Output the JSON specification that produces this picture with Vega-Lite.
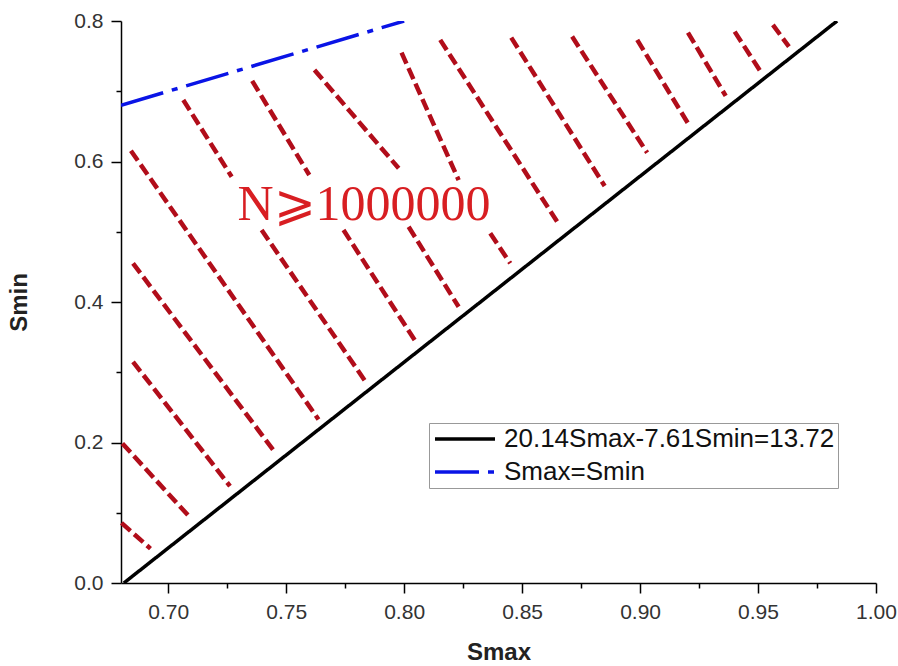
{
  "$schema": "https://vega.github.io/schema/vega-lite/v6.json",
  "width": 755,
  "height": 562,
  "autosize": {"type": "none"},
  "padding": {"left": 121, "top": 21, "right": 22, "bottom": 83},
  "background": "white",
  "config": {
    "view": {"stroke": null},
    "font": "Liberation Sans",
    "axis": {
      "domainColor": "black",
      "domainWidth": 1.5,
      "tickColor": "black",
      "tickWidth": 1.5,
      "labelFont": "Liberation Sans",
      "labelFontSize": 21,
      "labelColor": "#333333",
      "titleFont": "Liberation Sans",
      "titleFontSize": 24,
      "titleFontWeight": "bold",
      "titleColor": "#222222",
      "grid": false
    }
  },
  "resolve": {"axis": {"x": "independent", "y": "independent"}},
  "datasets": {
    "hatch": [
      {"seg": "S1", "x": 0.6842, "y": 0.6154}, {"seg": "S1", "x": 0.7637, "y": 0.2328},
      {"seg": "S2a", "x": 0.7064, "y": 0.6876}, {"seg": "S2a", "x": 0.7269, "y": 0.5783},
      {"seg": "S2b", "x": 0.7396, "y": 0.5024}, {"seg": "S2b", "x": 0.7842, "y": 0.2840},
      {"seg": "S3a", "x": 0.7356, "y": 0.7147}, {"seg": "S3a", "x": 0.7598, "y": 0.5808},
      {"seg": "S3b", "x": 0.7743, "y": 0.5024}, {"seg": "S3b", "x": 0.8054, "y": 0.3410},
      {"seg": "S4a", "x": 0.7620, "y": 0.7303}, {"seg": "S4a", "x": 0.7977, "y": 0.5903},
      {"seg": "S4b", "x": 0.8019, "y": 0.5071}, {"seg": "S4b", "x": 0.8231, "y": 0.3932},
      {"seg": "S5a", "x": 0.7989, "y": 0.7550}, {"seg": "S5a", "x": 0.8231, "y": 0.5736},
      {"seg": "S5b", "x": 0.8365, "y": 0.4977}, {"seg": "S5b", "x": 0.8450, "y": 0.4550},
      {"seg": "S6", "x": 0.8153, "y": 0.7731}, {"seg": "S6", "x": 0.8655, "y": 0.5110},
      {"seg": "S7", "x": 0.8454, "y": 0.7764}, {"seg": "S7", "x": 0.8850, "y": 0.5651},
      {"seg": "S8", "x": 0.8712, "y": 0.7778}, {"seg": "S8", "x": 0.9030, "y": 0.6125},
      {"seg": "S9", "x": 0.8988, "y": 0.7731}, {"seg": "S9", "x": 0.9203, "y": 0.6544},
      {"seg": "S10", "x": 0.9203, "y": 0.7835}, {"seg": "S10", "x": 0.9363, "y": 0.6933},
      {"seg": "S11", "x": 0.9401, "y": 0.7849}, {"seg": "S11", "x": 0.9514, "y": 0.7265},
      {"seg": "S12", "x": 0.9563, "y": 0.7945}, {"seg": "S12", "x": 0.9631, "y": 0.7635},
      {"seg": "S13", "x": 0.6851, "y": 0.4550}, {"seg": "S13", "x": 0.7446, "y": 0.1890},
      {"seg": "S14", "x": 0.6851, "y": 0.3148}, {"seg": "S14", "x": 0.7262, "y": 0.1378},
      {"seg": "S15", "x": 0.6806, "y": 0.1986}, {"seg": "S15", "x": 0.7088, "y": 0.0950},
      {"seg": "S16", "x": 0.6802, "y": 0.0855}, {"seg": "S16", "x": 0.6925, "y": 0.0490}
    ],
    "bounds": [
      {"series": "20.14Smax-7.61Smin=13.72", "x": 0.6812, "y": 0.0},
      {"series": "20.14Smax-7.61Smin=13.72", "x": 0.9835, "y": 0.8},
      {"series": "Smax=Smin", "x": 0.68, "y": 0.68},
      {"series": "Smax=Smin", "x": 0.80, "y": 0.80}
    ],
    "label": [
      {"x": 0.7830, "y": 0.5163, "text": "N⩾1000000"}
    ]
  },
  "layer": [
    {
      "data": {"name": "hatch"},
      "mark": {"type": "line", "color": "#b10d1a", "strokeWidth": 4.5, "strokeDash": [12, 5], "strokeCap": "butt"},
      "encoding": {
        "x": {
          "field": "x", "type": "quantitative",
          "scale": {"domain": [0.68, 1.0], "nice": false, "zero": false},
          "axis": {
            "orient": "bottom",
            "title": null,
            "values": [0.725, 0.775, 0.825, 0.875, 0.925, 0.975],
            "labels": false,
            "domain": false,
            "tickSize": 5
          }
        },
        "y": {
          "field": "y", "type": "quantitative",
          "scale": {"domain": [0, 0.8], "nice": false},
          "axis": {
            "orient": "left",
            "title": null,
            "values": [0.1, 0.3, 0.5, 0.7],
            "labels": false,
            "domain": false,
            "tickSize": 5
          }
        },
        "detail": {"field": "seg", "type": "nominal"}
      }
    },
    {
      "data": {"name": "bounds"},
      "mark": {"type": "line", "strokeWidth": 3.5, "clip": true},
      "encoding": {
        "x": {
          "field": "x", "type": "quantitative",
          "axis": {
            "orient": "bottom",
            "title": "Smax",
            "values": [0.70, 0.75, 0.80, 0.85, 0.90, 0.95, 1.00],
            "format": ".2f",
            "tickSize": 10,
            "labelFontSize": 21,
            "labelPadding": 8,
            "titlePadding": 18,
            "labelFlush": false
          }
        },
        "y": {
          "field": "y", "type": "quantitative",
          "axis": {
            "orient": "left",
            "title": "Smin",
            "values": [0, 0.2, 0.4, 0.6, 0.8],
            "format": ".1f",
            "tickSize": 10,
            "labelFontSize": 21,
            "labelPadding": 8,
            "titlePadding": 42,
            "labelFlush": false
          }
        },
        "color": {
          "field": "series", "type": "nominal",
          "scale": {"domain": ["20.14Smax-7.61Smin=13.72", "Smax=Smin"], "range": ["#000000", "#0a14e6"]},
          "legend": {
            "title": null,
            "orient": "none",
            "legendX": 308,
            "legendY": 402,
            "padding": 3,
            "strokeColor": "#999999",
            "fillColor": "white",
            "symbolType": "M-1,0H5",
            "symbolSize": 400,
            "symbolStrokeWidth": 3.5,
            "labelFontSize": 26,
            "labelFont": "Liberation Sans",
            "labelColor": "#111111",
            "labelOffset": 46,
            "rowPadding": 7,
            "labelLimit": 500
          }
        },
        "strokeDash": {
          "field": "series", "type": "nominal",
          "scale": {"domain": ["20.14Smax-7.61Smin=13.72", "Smax=Smin"], "range": [[1, 0], [44, 9, 6, 9]]},
          "legend": null
        }
      }
    },
    {
      "data": {"name": "label"},
      "mark": {"type": "text", "font": "Liberation Serif", "fontSize": 50, "color": "#d81e22", "align": "center", "baseline": "alphabetic"},
      "encoding": {
        "x": {"field": "x", "type": "quantitative", "axis": null},
        "y": {"field": "y", "type": "quantitative", "axis": null},
        "text": {"field": "text"}
      }
    }
  ]
}
